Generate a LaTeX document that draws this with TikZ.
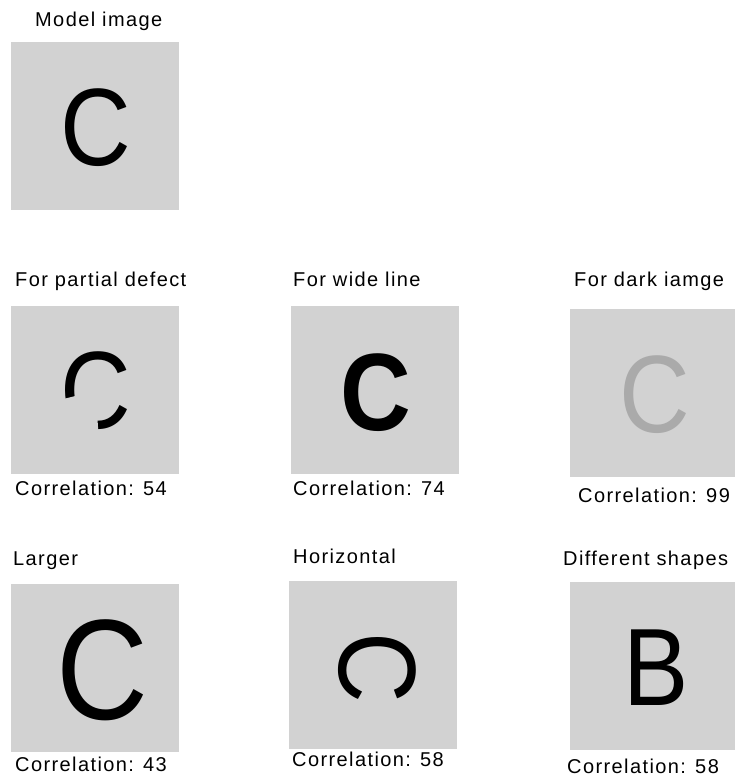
\documentclass[tikz,border=0pt]{standalone}
\usepackage{fontspec}
\setmainfont{Liberation Sans}
\newfontfamily\labfont[LetterSpace=7]{Liberation Sans}
\definecolor{boxgray}{RGB}{210,210,210}
\definecolor{dimgray}{RGB}{170,170,170}
\begin{document}
\begin{tikzpicture}[x=1pt, y=-1pt,
  img/.style={rectangle, fill=boxgray, inner sep=0pt, minimum width=168pt, minimum height=168pt},
  lab/.style={anchor=base west, inner sep=0pt, font=\labfont\fontsize{20}{20}\selectfont},
  glyph/.style={inner sep=0pt, xscale=0.89, font=\fontsize{110}{110}\selectfont},
  rglyph/.style={inner sep=0pt, yscale=0.89, rotate=-90, font=\fontsize{110}{110}\selectfont}
]
  \useasboundingbox (0,0) rectangle (734,778);

  % image boxes
  \node[img] (m) at (95,126) {};
  \node[img] (p) at (95,389.5) {};
  \node[img] (w) at (375,390) {};
  \node[img] (d) at (654,392.5) {};
  \node[img] (l) at (95,667.5) {};
  \node[img] (h) at (373,665) {};
  \node[img] (s) at (654,665.5) {};

  % letters
  \node[glyph] (mC) at (95.5,127.5) {C};
  \node[glyph] (pC) at (95.5,391) {C};
  \node[glyph, font=\bfseries\fontsize{110}{110}\selectfont] (wC) at (376,393) {C};
  \node[glyph, text=dimgray] (dC) at (655,395) {C};
  \node[glyph, font=\fontsize{143}{143}\selectfont] (lC) at (102.5,670) {C};
  \node[rglyph] (hC) at (377,668) {C};
  \node[glyph] (sB) at (656.5,667.5) {B};

  % defect
  \fill[boxgray] (pC.center) -- +(86:52) -- +(127:60) -- +(166:52) -- cycle;

  % titles
  \node[lab] (mT) at (35,27) {Model image};
  \node[lab] (pT) at (15,286) {For partial defect};
  \node[lab] (wT) at (293,286) {For wide line};
  \node[lab] (dT) at (574,286) {For dark iamge};
  \node[lab] (lT) at (13,565) {Larger};
  \node[lab] (hT) at (293,563) {Horizontal};
  \node[lab] (sT) at (563,565) {Different shapes};

  % scores
  \node[lab] (pS) at (15,495) {Correlation: 54};
  \node[lab] (wS) at (293,495) {Correlation: 74};
  \node[lab] (dS) at (578,502) {Correlation: 99};
  \node[lab] (lS) at (15,771) {Correlation: 43};
  \node[lab] (hS) at (292,766) {Correlation: 58};
  \node[lab] (sS) at (567,773) {Correlation: 58};
\end{tikzpicture}
\end{document}
